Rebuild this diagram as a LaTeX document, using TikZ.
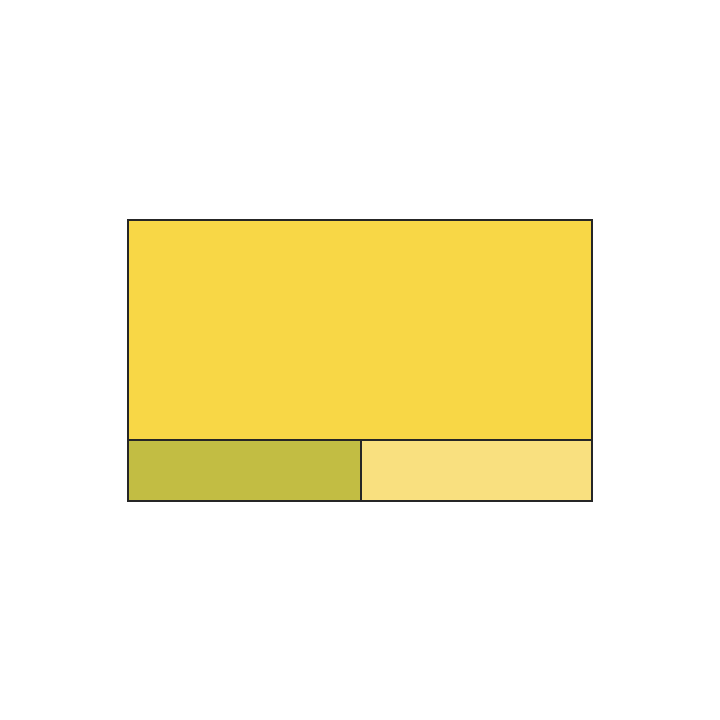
\documentclass[tikz,border=0pt]{standalone}
\definecolor{mainY}{HTML}{F8D746}
\definecolor{oliveY}{HTML}{C2BD43}
\definecolor{lightY}{HTML}{F9E07F}
\begin{document}
\begin{tikzpicture}[x=1pt,y=-1pt,
  cell/.style={draw=black!85,line width=1.6pt}]
\useasboundingbox (0,0) rectangle (720,720);
\fill[white] (0,0) rectangle (720,720);
\filldraw[cell,fill=mainY] (128,220) rectangle (592,440);
\filldraw[cell,fill=oliveY] (128,440) rectangle (361,501);
\filldraw[cell,fill=lightY] (361,440) rectangle (592,501);
\end{tikzpicture}
\end{document}
